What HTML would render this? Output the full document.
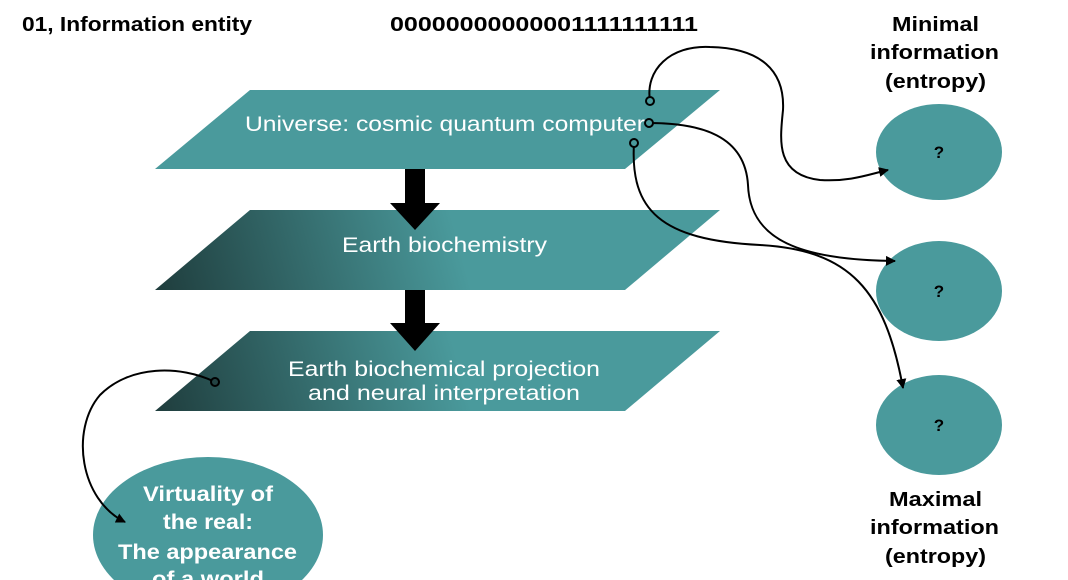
<!DOCTYPE html>
<html><head><style>
body{margin:0;width:1068px;height:580px;overflow:hidden;background:#fff;font-family:"Liberation Sans",sans-serif;}
</style></head><body>
<svg width="1068" height="580" xmlns="http://www.w3.org/2000/svg" style="position:absolute;left:0;top:0;overflow:hidden">
<defs>
<linearGradient id="g" x1="155" y1="290" x2="450" y2="210" gradientUnits="userSpaceOnUse">
<stop offset="0" stop-color="#1f3d3d"/><stop offset="1" stop-color="#4a9a9c"/></linearGradient>
<linearGradient id="g2" x1="155" y1="411" x2="450" y2="331" gradientUnits="userSpaceOnUse">
<stop offset="0" stop-color="#1f3d3d"/><stop offset="1" stop-color="#4a9a9c"/></linearGradient>
<marker id="a" markerWidth="10" markerHeight="10" refX="9" refY="5" orient="auto" markerUnits="userSpaceOnUse"><path d="M0,0 L10,5 L0,10 z" fill="#000"/></marker>
</defs>
<g font-weight="bold" font-size="20" fill="#000" lengthAdjust="spacingAndGlyphs">
<text x="22" y="31" textLength="230" lengthAdjust="spacingAndGlyphs">01, Information entity</text>
<text x="390" y="31" textLength="308" lengthAdjust="spacingAndGlyphs">00000000000001111111111</text>
<text x="892" y="31" textLength="87" lengthAdjust="spacingAndGlyphs">Minimal</text>
<text x="870" y="59" textLength="129" lengthAdjust="spacingAndGlyphs">information</text>
<text x="885" y="88" textLength="101" lengthAdjust="spacingAndGlyphs">(entropy)</text>
<text x="889" y="506" textLength="93" lengthAdjust="spacingAndGlyphs">Maximal</text>
<text x="870" y="534" textLength="129" lengthAdjust="spacingAndGlyphs">information</text>
<text x="885" y="563" textLength="101" lengthAdjust="spacingAndGlyphs">(entropy)</text>
</g>
<polygon points="250,90 720,90 625,169 155,169" fill="#4a9a9c"/>
<polygon points="250,210 720,210 625,290 155,290" fill="url(#g)"/>
<polygon points="250,331 720,331 625,411 155,411" fill="url(#g2)"/>
<g fill="#000">
<rect x="405" y="169" width="20" height="35"/><polygon points="390,203 440,203 415,230"/>
<rect x="405" y="290" width="20" height="35"/><polygon points="390,323 440,323 415,351"/>
</g>
<g fill="#fff" font-size="21">
<text x="245" y="131" textLength="400" lengthAdjust="spacingAndGlyphs">Universe: cosmic quantum computer</text>
<text x="342" y="252" textLength="205" lengthAdjust="spacingAndGlyphs">Earth biochemistry</text>
<text x="288" y="376" textLength="312" lengthAdjust="spacingAndGlyphs">Earth biochemical projection</text>
<text x="308" y="400" textLength="272" lengthAdjust="spacingAndGlyphs">and neural interpretation</text>
</g>
<ellipse cx="939" cy="152" rx="63" ry="48" fill="#4a9a9c"/>
<ellipse cx="939" cy="291" rx="63" ry="50" fill="#4a9a9c"/>
<ellipse cx="939" cy="425" rx="63" ry="50" fill="#4a9a9c"/>
<ellipse cx="208" cy="535" rx="115" ry="78" fill="#4a9a9c"/>
<g font-weight="bold" font-size="17" fill="#000" text-anchor="middle">
<text x="939" y="158">?</text><text x="939" y="297">?</text><text x="939" y="431">?</text>
</g>
<g font-weight="bold" font-size="21" fill="#fff">
<text x="143" y="501" textLength="130" lengthAdjust="spacingAndGlyphs">Virtuality of</text>
<text x="163" y="529" textLength="90" lengthAdjust="spacingAndGlyphs">the real:</text>
<text x="118" y="559" textLength="179" lengthAdjust="spacingAndGlyphs">The appearance</text>
<text x="152" y="586" textLength="112" lengthAdjust="spacingAndGlyphs">of a world</text>
</g>
<g fill="none" stroke="#000" stroke-width="2">
<path d="M650,101 C645,70 670,45 710,47 C760,48 785,70 783,110 C780,140 775,175 820,180 C850,182 870,174 888,170" marker-end="url(#a)"/>
<path d="M649,123 C700,123 745,135 748,185 C750,240 800,260 895,261" marker-end="url(#a)"/>
<path d="M634,143 C630,210 660,240 760,245 C850,250 885,290 903,388" marker-end="url(#a)"/>
<path d="M215,382 C180,365 130,365 100,395 C70,430 80,500 125,522" marker-end="url(#a)"/>
</g>
<g fill="#4a9a9c" stroke="#000" stroke-width="2">
<circle cx="650" cy="101" r="4"/><circle cx="649" cy="123" r="4"/><circle cx="634" cy="143" r="4"/><circle cx="215" cy="382" r="4" fill="#234343"/>
</g>
</svg>
</body></html>
